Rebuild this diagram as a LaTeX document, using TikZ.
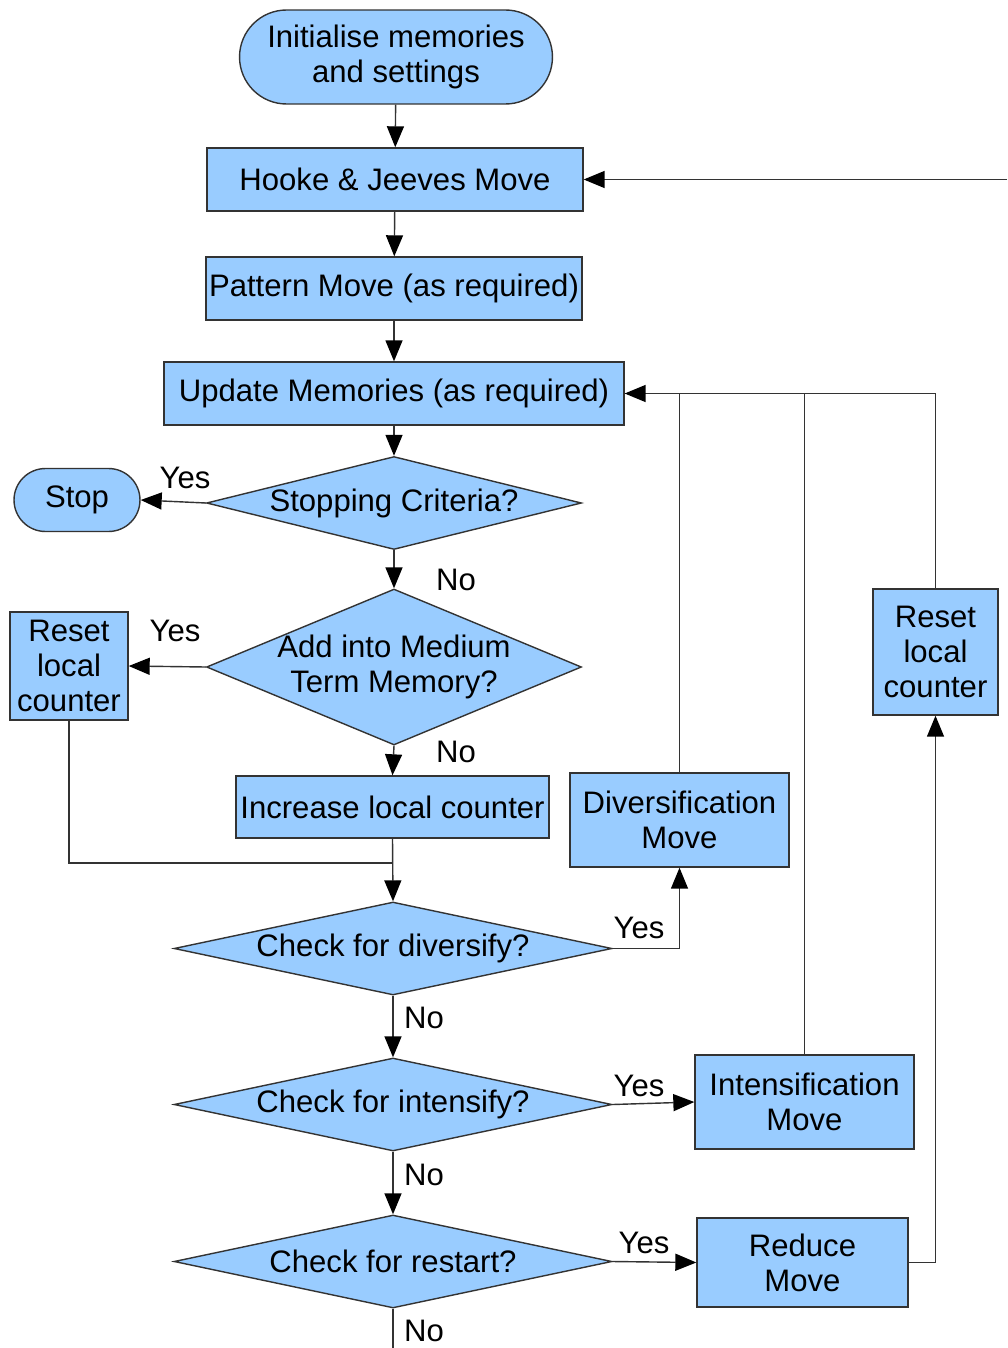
\documentclass[tikz,border=0pt]{standalone}
\usepackage{fontspec}
\setmainfont{Liberation Sans}
\usetikzlibrary{positioning,shapes.geometric,arrows.meta}
\definecolor{boxblue}{HTML}{99CCFF}
\definecolor{edgegray}{HTML}{333333}

\begin{document}
\begin{tikzpicture}[x=0.02cm, y=-0.02cm,
    box/.style={rectangle, draw=edgegray, line width=0.8pt, fill=boxblue, align=center, inner sep=0pt, font=\fontsize{17.7}{20}\selectfont},
    terminal/.style={box, rounded corners=#1},
    decision/.style={diamond, draw=edgegray, line width=0.8pt, fill=boxblue, inner sep=0pt, label={[align=center, font=\fontsize{17.7}{20}\selectfont]center:#1}},
    lbl/.style={font=\fontsize{17.7}{20}\selectfont, inner sep=0pt},
    arr/.style={draw=edgegray, line width=0.8pt, -{Triangle[length=0.42cm, width=0.34cm, color=black]}},
    line/.style={draw=edgegray, line width=0.8pt}]

\useasboundingbox (0,0) rectangle (1007,1348);

% Main column
\node[terminal=0.94cm, minimum width=6.26cm, minimum height=1.88cm] (init) at (396,57) {Initialise memories\\and settings};
\node[box, minimum width=7.52cm, minimum height=1.26cm] (hooke) at (395,179.5) {Hooke \& Jeeves Move};
\node[box, minimum width=7.52cm, minimum height=1.26cm] (pattern) at (394,288.5) {Pattern Move (as required)};
\node[box, minimum width=9.2cm, minimum height=1.26cm] (update) at (394,393.5) {Update Memories (as required)};
\node[decision={Stopping Criteria?}, minimum width=7.5cm, minimum height=1.86cm] (stopcrit) at (394,503) {};
\node[decision={Add into Medium\\Term Memory?}, minimum width=7.5cm, minimum height=3.12cm] (addmem) at (394,667) {};
\node[box, minimum width=6.26cm, minimum height=1.24cm] (increase) at (392.5,807) {Increase local counter};
\node[decision={Check for diversify?}, minimum width=8.76cm, minimum height=1.86cm] (diversify) at (393,948.5) {};
\node[decision={Check for intensify?}, minimum width=8.76cm, minimum height=1.86cm] (intensify) at (393,1104.5) {};
\node[decision={Check for restart?}, minimum width=8.76cm, minimum height=1.86cm] (restart) at (393,1261.5) {};

% Left side
\node[terminal=0.63cm, minimum width=2.52cm, minimum height=1.26cm] (stop) at (77,500) {Stop};
\node[box, minimum width=2.36cm, minimum height=2.16cm] (resetleft) at (69,666) {Reset\\local\\counter};

% Right side
\node[box, minimum width=4.38cm, minimum height=1.88cm] (divmove) at (679.5,820) {Diversification\\Move};
\node[box, minimum width=4.38cm, minimum height=1.88cm] (intmove) at (804.5,1102) {Intensification\\Move};
\node[box, minimum width=4.22cm, minimum height=1.78cm] (reduce) at (802.5,1262.5) {Reduce\\Move};
\node[box, minimum width=2.5cm, minimum height=2.52cm] (resetright) at (935.5,652) {Reset\\local\\counter};

% Branch labels
\node[lbl] (yesstop) at (185,478) {Yes};
\node[lbl] (nostop) at (456,580) {No};
\node[lbl] (yesmem) at (175,631) {Yes};
\node[lbl] (nomem) at (456,752) {No};
\node[lbl] (yesdiv) at (639,928) {Yes};
\node[lbl] (nodiv) at (424,1018) {No};
\node[lbl] (yesint) at (639,1086) {Yes};
\node[lbl] (noint) at (424,1175) {No};
\node[lbl] (yesres) at (644,1243) {Yes};
\node[lbl] (nores) at (424,1331) {No};

% Free ends
\coordinate (join) at (392.5,863);
\coordinate (loopin) at (1007,179.5);
\coordinate (exit) at (393,1348);

% Connections
\draw[arr] (init) -- (hooke);
\draw[arr] (hooke) -- (pattern);
\draw[arr] (pattern) -- (update);
\draw[arr] (update) -- (stopcrit);
\draw[arr] (stopcrit.west) -- (stop.east);
\draw[arr] (stopcrit.south) -- (addmem.north);
\draw[arr] (addmem.west) -- (resetleft.east);
\draw[arr] (addmem.south) -- (increase.north);
\draw[line] (resetleft.south) |- (join);
\draw[arr] (increase.south) -- (diversify.north);
\draw[arr] (diversify.east) -| (divmove.south);
\draw[arr] (diversify.south) -- (intensify.north);
\draw[arr] (intensify.east) -- (intmove.west);
\draw[arr] (intensify.south) -- (restart.north);
\draw[arr] (restart.east) -- (reduce.west);
\draw[line] (restart.south) -- (exit);
\draw[arr] (reduce.east) -| (resetright.south);
\draw[line] (divmove.north) |- (update.east);
\draw[line] (intmove.north) |- (update.east);
\draw[arr] (resetright.north) |- (update.east);
\draw[arr] (loopin) -- (hooke.east);

\end{tikzpicture}
\end{document}
